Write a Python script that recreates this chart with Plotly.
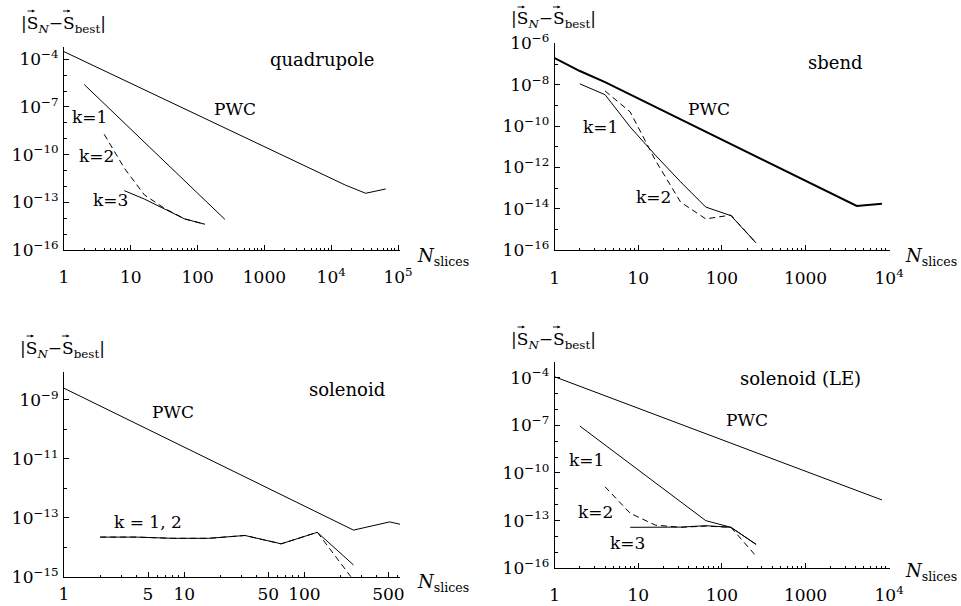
import plotly.graph_objects as go

W, H = 961, 606
FONT = "DejaVu Serif"

# ---------------- data ----------------
# quadrupole
quad_pwc_n = [1, 2, 4, 8, 16, 32, 64, 128, 256, 512, 1024, 2048, 4096, 8192, 16384, 32768, 65536]
quad_pwc_v = [3.0e-4, 7.5e-5, 1.9e-5, 4.7e-6, 1.2e-6, 2.9e-7, 7.3e-8, 1.8e-8, 4.6e-9, 1.1e-9,
              2.9e-10, 7.2e-11, 1.8e-11, 4.5e-12, 1.2e-12, 3.7e-13, 6.9e-13]
quad_k1_n = [2, 4, 8, 16, 32, 64, 128, 256]
quad_k1_v = [2.6e-6, 1.6e-7, 1.0e-8, 6.3e-10, 4.0e-11, 2.5e-12, 1.5e-13, 8.5e-15]
quad_k2_n = [4, 8, 16, 32, 64, 128]
quad_k2_v = [1.9e-9, 1.4e-11, 2.9e-13, 4.2e-14, 9.0e-15, 4.2e-15]
quad_k3_n = [8, 16, 32, 64, 128]
quad_k3_v = [5.4e-13, 1.6e-13, 3.8e-14, 9.0e-15, 4.2e-15]

# sbend
sb_pwc_n = [1, 2, 4, 8, 16, 32, 64, 128, 256, 512, 1024, 2048, 4096, 8192]
sb_pwc_v = [1.95e-7, 4.6e-8, 1.35e-8, 3.4e-9, 8.5e-10, 2.1e-10, 5.2e-11, 1.3e-11, 3.3e-12,
            8.1e-13, 2.0e-13, 5.1e-14, 1.35e-14, 1.75e-14]
sb_k1_n = [2, 4, 8, 16, 32, 64, 128, 256]
sb_k1_v = [1.1e-8, 3.3e-9, 9.0e-11, 3.9e-12, 2.0e-13, 1.2e-14, 4.6e-15, 2.2e-16]
sb_k2_n = [4, 8, 16, 32, 64, 128, 256]
sb_k2_v = [5.0e-9, 4.8e-10, 2.2e-12, 2.1e-14, 3.2e-15, 4.9e-15, 2.2e-16]

# solenoid
sol_pwc_n = [1, 2, 4, 8, 16, 32, 64, 128, 256, 512, 1024]
sol_pwc_v = [2.45e-9, 6.1e-10, 1.5e-10, 3.8e-11, 9.6e-12, 2.4e-12, 6.0e-13, 1.5e-13, 3.8e-14,
             7.2e-14, 3.8e-14]
sol_k1_n = [2, 4, 8, 16, 32, 64, 128, 256]
sol_k1_v = [2.2e-14, 2.2e-14, 2.0e-14, 2.0e-14, 2.5e-14, 1.3e-14, 3.2e-14, 2.5e-15]
sol_k2_n = [2, 4, 8, 16, 32, 64, 128, 256]
sol_k2_v = [2.2e-14, 2.2e-14, 2.0e-14, 2.0e-14, 2.5e-14, 1.3e-14, 3.2e-14, 7.6e-16]

# solenoid (LE)
le_pwc_n = [1, 2, 4, 8, 16, 32, 64, 128, 256, 512, 1024, 2048, 4096, 8192]
le_pwc_v = [1.12e-4, 2.8e-5, 7.1e-6, 1.8e-6, 4.6e-7, 1.2e-7, 2.9e-8, 7.4e-9, 1.9e-9, 4.8e-10,
            1.2e-10, 3.1e-11, 8.0e-12, 2.0e-12]
le_k1_n = [2, 4, 8, 16, 32, 64, 128, 256]
le_k1_v = [8.9e-8, 5.8e-9, 3.7e-10, 2.4e-11, 1.6e-12, 1.0e-13, 3.8e-14, 3.2e-15]
le_k2_n = [4, 8, 16, 32, 64, 128, 256]
le_k2_v = [1.35e-11, 2.9e-13, 5.2e-14, 3.8e-14, 4.5e-14, 3.8e-14, 5.9e-16]
le_k3_n = [8, 16, 32, 64, 128, 256]
le_k3_v = [3.8e-14, 3.8e-14, 3.9e-14, 4.8e-14, 3.8e-14, 3.2e-15]

# ticks
x_ticks_5 = [1, 10, 100, 1000, 1e4, 1e5]
x_ticktext_5 = ["1", "10", "100", "1000", "10<sup>4</sup>", "10<sup>5</sup>"]
x_ticks_4 = [1, 10, 100, 1000, 1e4]
x_ticktext_4 = ["1", "10", "100", "1000", "10<sup>4</sup>"]
x_ticks_sol = [1, 5, 10, 50, 100, 500]
x_ticktext_sol = ["1", "5", "10", "50", "100", "500"]

y_ticks_quad = [1e-16, 1e-13, 1e-10, 1e-7, 1e-4]
y_ticktext_quad = ["10<sup>−16</sup>", "10<sup>−13</sup>", "10<sup>−10</sup>", "10<sup>−7</sup>", "10<sup>−4</sup>"]
y_ticks_sb = [1e-16, 1e-14, 1e-12, 1e-10, 1e-8, 1e-6]
y_ticktext_sb = ["10<sup>−16</sup>", "10<sup>−14</sup>", "10<sup>−12</sup>", "10<sup>−10</sup>", "10<sup>−8</sup>", "10<sup>−6</sup>"]
y_ticks_sol = [1e-15, 1e-13, 1e-11, 1e-9]
y_ticktext_sol = ["10<sup>−15</sup>", "10<sup>−13</sup>", "10<sup>−11</sup>", "10<sup>−9</sup>"]
y_ticks_le = [1e-16, 1e-13, 1e-10, 1e-7, 1e-4]
y_ticktext_le = ["10<sup>−16</sup>", "10<sup>−13</sup>", "10<sup>−10</sup>", "10<sup>−7</sup>", "10<sup>−4</sup>"]


def minor_x(decades):
    vals = []
    for d in range(decades + 1):
        for m in range(2, 10):
            vals.append(m * 10 ** d)
    return vals


def minor_y(lo, hi):
    return [10.0 ** e for e in range(lo, hi + 1)]


def px(x):
    return x / W


def py(y):
    return 1 - y / H


fig = go.Figure()


def add(ax, xs, ys, dash="solid", width=1.0):
    fig.add_trace(go.Scatter(
        x=xs, y=ys, mode="lines",
        line=dict(color="black", width=width, dash=dash),
        xaxis="x" + ("" if ax == 1 else str(ax)),
        yaxis="y" + ("" if ax == 1 else str(ax)),
        showlegend=False, hoverinfo="skip"))


DASH = "6px,4px"
add(1, quad_pwc_n, quad_pwc_v)
add(1, quad_k1_n, quad_k1_v)
add(1, quad_k2_n, quad_k2_v, DASH)
add(1, quad_k3_n, quad_k3_v)

add(2, sb_pwc_n, sb_pwc_v, width=2)
add(2, sb_k1_n, sb_k1_v)
add(2, sb_k2_n, sb_k2_v, DASH)

add(3, sol_pwc_n, sol_pwc_v)
add(3, sol_k2_n, sol_k2_v, DASH)
add(3, sol_k1_n, sol_k1_v)

add(4, le_pwc_n, le_pwc_v)
add(4, le_k1_n, le_k1_v)
add(4, le_k2_n, le_k2_v, DASH)
add(4, le_k3_n, le_k3_v)


def xaxis(dom, rng, tv, tt, minor, anchor, standoff):
    return dict(type="log", domain=[px(dom[0]), px(dom[1])], range=rng, anchor=anchor,
                automargin=False,
                tickmode="array", tickvals=tv, ticktext=tt,
                ticks="inside", ticklen=5, tickwidth=1, tickcolor="black",
                showline=True, linecolor="black", linewidth=1, mirror=False,
                showgrid=False, zeroline=False, ticklabelstandoff=standoff,
                tickfont=dict(family=FONT, size=17, color="black"),
                minor=dict(tickmode="array", tickvals=minor, ticks="inside", ticklen=2,
                           tickwidth=1, tickcolor="black", showgrid=False))


def yaxis(dom, rng, tv, tt, minor, anchor):
    return dict(type="log", domain=[py(dom[1]), py(dom[0])], range=rng, anchor=anchor,
                automargin=False,
                tickmode="array", tickvals=tv, ticktext=tt,
                ticks="inside", ticklen=5, tickwidth=1, tickcolor="black",
                showline=True, linecolor="black", linewidth=1, mirror=False,
                showgrid=False, zeroline=False, ticklabelstandoff=1,
                tickfont=dict(family=FONT, size=17, color="black"),
                minor=dict(tickmode="array", tickvals=minor, ticks="inside", ticklen=3,
                           tickwidth=1, tickcolor="black", showgrid=False))


fig.update_layout(
    template="none",
    width=W, height=H, margin=dict(l=0, r=0, t=0, b=0, autoexpand=False),
    paper_bgcolor="white", plot_bgcolor="white",
    xaxis=xaxis((64, 400), [0, 5.03], x_ticks_5, x_ticktext_5, minor_x(4), "y", 12),
    yaxis=yaxis((47, 250), [-16, -3.23], y_ticks_quad, y_ticktext_quad, minor_y(-16, -3), "x"),
    xaxis2=xaxis((554.7, 890), [0, 4.01], x_ticks_4, x_ticktext_4, minor_x(3), "y2", 13),
    yaxis2=yaxis((43, 250), [-16, -5.98], y_ticks_sb, y_ticktext_sb, minor_y(-16, -6), "x2"),
    xaxis3=xaxis((64, 400), [0, 2.795], x_ticks_sol, x_ticktext_sol, minor_x(2), "y3", 2),
    yaxis3=yaxis((371.7, 576.7), [-15, -8.05], y_ticks_sol, y_ticktext_sol, minor_y(-15, -8), "x3"),
    xaxis4=xaxis((554.7, 890), [0, 4.01], x_ticks_4, x_ticktext_4, minor_x(3), "y4", 11),
    yaxis4=yaxis((361.7, 568.3), [-16, -3.0], y_ticks_le, y_ticktext_le, minor_y(-16, -3), "x4"),
)

YTITLE = "|S<sub><i>N</i></sub>\u2212S<sub>best</sub>|"
XTITLE = "<i>N</i><sub>slices</sub>"

# y-axis titles (left anchored) and vector arrows drawn over the two S letters
ytitles = [(19, 24), (509, 20), (18, 349), (509, 340)]
for x0, y0 in ytitles:
    fig.add_annotation(text=YTITLE, x=px(x0), y=py(y0), xref="paper", yref="paper",
                       xanchor="left", yanchor="middle", showarrow=False,
                       font=dict(family=FONT, size=17, color="black"))
    for dx in (11.5, 47.0):
        fig.add_annotation(text="", x=px(x0 + dx + 4.5), y=py(y0 - 13), xref="paper", yref="paper",
                           showarrow=True, ax=-9, ay=0, arrowhead=2, arrowsize=0.7,
                           arrowwidth=0.9, arrowcolor="black", standoff=0, startstandoff=0)

labels = [
    (XTITLE, 443, 257, 18),
    (XTITLE, 931, 257, 18),
    (XTITLE, 443, 583, 18),
    (XTITLE, 931, 572, 18),
    ("quadrupole", 322, 60, 18),
    ("PWC", 235, 109, 17),
    ("k=1", 89, 117, 17),
    ("k=2", 96, 156, 17),
    ("k=3", 110, 200, 17),
    ("sbend", 835, 62, 18),
    ("PWC", 709, 109, 17),
    ("k=1", 600, 127, 17),
    ("k=2", 653, 197, 17),
    ("solenoid", 347, 389, 18),
    ("PWC", 173, 412, 17),
    ("k = 1, 2", 148, 522, 17),
    ("solenoid (LE)", 800, 378, 18),
    ("PWC", 747, 420, 17),
    ("k=1", 586, 460, 17),
    ("k=2", 595, 512, 17),
    ("k=3", 627, 543, 17),
]
for txt, x, y, s in labels:
    fig.add_annotation(text=txt, x=px(x), y=py(y), xref="paper", yref="paper",
                       xanchor="center", yanchor="middle", showarrow=False,
                       font=dict(family=FONT, size=s, color="black"))

fig.write_html("out.html", config={"displayModeBar": False},
               post_script="document.body.style.margin='0';")
